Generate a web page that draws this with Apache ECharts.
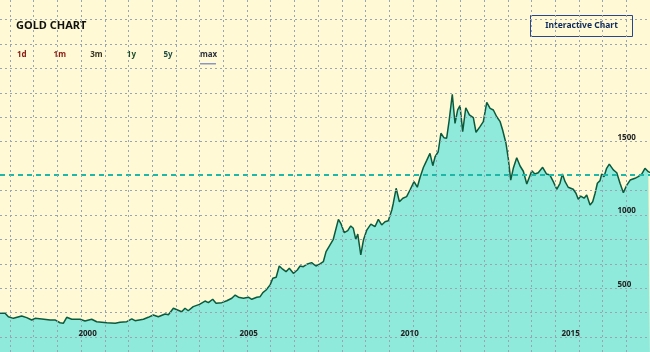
<!DOCTYPE html>
<html>
<head>
<meta charset="utf-8">
<title>Gold chart</title>
<script src="https://cdn.jsdelivr.net/npm/echarts@6/dist/echarts.min.js"></script>
<style>
  html, body { margin: 0; padding: 0; background: #fffad5; }
  #chart { width: 650px; height: 352px; }
</style>
</head>
<body>
<div id="chart"></div>
<script>
// gold price, usd/oz (roughly every 1-2 months)
const dates = [
  '1997-07-25', '1997-09-21', '1997-10-28', '1997-12-24', '1998-03-28', '1998-05-24', '1998-07-20', '1998-08-27',
  '1998-11-12', '1999-02-14', '1999-04-10', '1999-06-06', '1999-07-13', '1999-08-21', '1999-10-17', '2000-01-20',
  '2000-03-15', '2000-05-30', '2000-07-26', '2000-11-18', '2001-02-21', '2001-04-17', '2001-07-02', '2001-08-28',
  '2001-10-04', '2002-01-07', '2002-03-03', '2002-04-29', '2002-06-25', '2002-09-10', '2002-10-17', '2002-12-13',
  '2003-03-17', '2003-04-24', '2003-05-30', '2003-07-26', '2003-10-05', '2003-12-07', '2004-01-14', '2004-03-03',
  '2004-04-10', '2004-06-14', '2004-08-10', '2004-10-06', '2004-11-13', '2004-12-20', '2005-02-15', '2005-04-12',
  '2005-05-20', '2005-07-16', '2005-08-23', '2005-09-23', '2005-10-30', '2005-12-14', '2006-01-14', '2006-02-21',
  '2006-03-28', '2006-05-06', '2006-06-13', '2006-07-20', '2006-09-04', '2006-10-19', '2006-11-19', '2006-12-26',
  '2007-02-11', '2007-03-30', '2007-05-18', '2007-07-03', '2007-08-10', '2007-09-10', '2007-10-17', '2007-12-01',
  '2008-01-28', '2008-02-24', '2008-04-04', '2008-05-13', '2008-06-16', '2008-07-15', '2008-08-12', '2008-09-04',
  '2008-10-08', '2008-11-07', '2008-12-15', '2009-01-30', '2009-03-18', '2009-04-25', '2009-06-02', '2009-07-10',
  '2009-08-16', '2009-09-25', '2009-10-12', '2009-11-13', '2009-12-20', '2010-01-28', '2010-03-12', '2010-04-19',
  '2010-06-04', '2010-07-11', '2010-08-11', '2010-09-18', '2010-10-26', '2010-12-02', '2011-01-03', '2011-01-29',
  '2011-03-05', '2011-04-05', '2011-05-09', '2011-06-09', '2011-07-08', '2011-08-12', '2011-09-12', '2011-10-12',
  '2011-11-08', '2011-12-08', '2012-01-12', '2012-02-22', '2012-04-07', '2012-05-07', '2012-06-22', '2012-07-29',
  '2012-09-06', '2012-10-14', '2012-11-20', '2012-12-28', '2013-02-05', '2013-03-05', '2013-04-12', '2013-05-08',
  '2013-06-05', '2013-07-04', '2013-08-12', '2013-09-19', '2013-10-26', '2013-12-04', '2014-01-30', '2014-03-06',
  '2014-04-13', '2014-06-02', '2014-07-17', '2014-08-24', '2014-10-01', '2014-11-09', '2014-12-16', '2015-01-12',
  '2015-02-12', '2015-03-19', '2015-05-15', '2015-06-15', '2015-07-11', '2015-08-08', '2015-09-15', '2015-10-15',
  '2015-11-22', '2015-12-22', '2016-01-18', '2016-02-13', '2016-03-14', '2016-04-02', '2016-04-28', '2016-05-28',
  '2016-06-27', '2016-08-12', '2016-09-20', '2016-10-27', '2016-12-04', '2017-01-12', '2017-02-19', '2017-04-15',
  '2017-05-21', '2017-06-30', '2017-08-06', '2017-09-13', '2017-10-02'
];
const prices = [
  330, 330, 306, 295, 311, 300, 284, 295,
  291, 284, 284, 265, 261, 302, 289, 289,
  277, 289, 272, 265, 261, 268, 272, 291,
  279, 289, 302, 318, 306, 325, 320, 364,
  340, 364, 347, 375, 390, 413, 402, 425,
  398, 402, 415, 432, 454, 439, 432, 439,
  425, 439, 443, 470, 488, 523, 568, 575,
  652, 630, 613, 636, 602, 625, 652, 647,
  666, 675, 652, 666, 681, 750, 788, 834,
  970, 943, 879, 893, 925, 909, 834, 870,
  727, 829, 897, 938, 920, 970, 932, 954,
  961, 1034, 1080, 1182, 1090, 1114, 1125, 1170,
  1227, 1189, 1255, 1324, 1372, 1420, 1336, 1397,
  1431, 1557, 1527, 1523, 1647, 1823, 1625, 1716,
  1745, 1568, 1731, 1682, 1663, 1564, 1602, 1636,
  1768, 1727, 1716, 1670, 1636, 1579, 1489, 1386,
  1238, 1318, 1390, 1334, 1298, 1211, 1302, 1279,
  1288, 1325, 1279, 1272, 1227, 1175, 1216, 1279,
  1227, 1189, 1175, 1148, 1107, 1129, 1114, 1136,
  1068, 1090, 1148, 1216, 1234, 1279, 1261, 1318,
  1347, 1307, 1288, 1216, 1152, 1204, 1238, 1250,
  1261, 1279, 1318, 1295, 1288
];
const currentPrice = 1277;
const yearLabels = [2000, 2005, 2010, 2015];
const priceLabels = [500, 1000, 1500];
const periods = ['1d', '1m', '3m', '1y', '5y', 'max'];
const periodColors = ['#8a1a12', '#8a1a12', '#3a3424', '#1d4d2c', '#1d4a42', '#30323e'];

const FONT = '"Noto Sans", "Open Sans", sans-serif';
const gridColor = '#97a6b2';
// the reference skips one horizontal line (the one just above the current price)
const hLineColors = [];
for (let i = 0; i < 16; i++) hLineColors.push(i === 8 ? 'rgba(0,0,0,0)' : gridColor);

const chart = echarts.init(document.getElementById('chart'), null, { renderer: 'canvas' });

const periodTexts = periods.map((p, i) => ({
  type: 'text',
  x: 17 + i * 36.6,
  y: 55,
  style: {
    text: p,
    fill: periodColors[i],
    font: 'bold 8px ' + FONT,
    verticalAlign: 'middle'
  }
}));

chart.setOption({
  animation: false,
  backgroundColor: '#fffad5',
  title: {
    text: 'GOLD CHART',
    left: 16,
    top: 20,
    padding: 0,
    textStyle: { fontFamily: FONT, fontSize: 11, fontWeight: 'bold', color: '#111' }
  },
  graphic: periodTexts.concat([
    {
      type: 'rect',
      shape: { x: 200, y: 63, width: 16, height: 1.5 },
      style: { fill: '#8c96c2' }
    },
    {
      type: 'rect',
      shape: { x: 530.5, y: 15.5, width: 102, height: 21 },
      style: { fill: 'none', stroke: '#2a4688', lineWidth: 1 }
    },
    {
      type: 'text',
      x: 581.5,
      y: 26,
      style: {
        text: 'Interactive Chart',
        fill: '#0e2a5c',
        font: 'bold 8.5px ' + FONT,
        align: 'center',
        verticalAlign: 'middle'
      }
    }
  ]),
  grid: [
    { left: 0, right: 0, top: -5, bottom: -9.6, outerBoundsMode: 'none' },
    { left: 10, right: 0, top: 0, bottom: 0, outerBoundsMode: 'none' }
  ],
  xAxis: [
    {
      type: 'time',
      gridIndex: 0,
      min: 'dataMin',
      max: 'dataMax',
      maxInterval: 366 * 24 * 3600 * 1000,
      axisLine: { show: false },
      axisTick: { show: false },
      splitLine: { show: false },
      zlevel: 1,
      axisLabel: {
        inside: true,
        margin: 24,
        align: 'left',
        interval: 0,
        hideOverlap: false,
        showMinLabel: false,
        showMaxLabel: false,
        fontFamily: FONT,
        fontSize: 8,
        fontWeight: 'bold',
        color: '#222',
        formatter: function (value) {
          const d = new Date(value);
          const y = d.getFullYear();
          if (d.getMonth() === 0 && d.getDate() === 1 && yearLabels.indexOf(y) >= 0) return String(y);
          return '';
        }
      }
    },
    {
      // background squares, vertical lines
      type: 'value',
      gridIndex: 1,
      min: 0,
      max: 27,
      interval: 1,
      zlevel: 1,
      axisLine: { show: false },
      axisTick: { show: false },
      axisLabel: { show: false },
      splitLine: { show: true, lineStyle: { color: gridColor, type: [2, 3], width: 1 } }
    }
  ],
  yAxis: [
    {
      type: 'value',
      gridIndex: 0,
      position: 'right',
      min: 0,
      max: 2500,
      interval: 500 / 3,
      zlevel: 1,
      axisLine: { show: false },
      axisTick: { show: false },
      splitLine: { show: true, lineStyle: { color: hLineColors, type: [2, 3], width: 1 } },
      axisLabel: {
        inside: true,
        align: 'left',
        verticalAlign: 'bottom',
        margin: 32.5,
        fontFamily: FONT,
        fontSize: 8,
        fontWeight: 'bold',
        color: '#222',
        formatter: function (v) {
          for (const p of priceLabels) if (Math.abs(p - v) < 1) return String(p);
          return '';
        }
      }
    },
    { type: 'value', gridIndex: 1, min: 0, max: 1, show: false }
  ],
  series: [
    {
      name: 'Gold',
      type: 'line',
      xAxisIndex: 0,
      yAxisIndex: 0,
      data: dates.map((d, i) => [d, prices[i]]),
      symbol: 'none',
      showSymbol: false,
      lineStyle: { color: '#0c5a3c', width: 1.5 },
      areaStyle: { color: '#8feadb', opacity: 1 },
      markLine: {
        silent: true,
        symbol: 'none',
        label: { show: false },
        lineStyle: { color: '#1fb8a8', type: [5, 4], width: 2 },
        data: [{ yAxis: currentPrice }]
      }
    }
  ]
});
</script>
</body>
</html>
